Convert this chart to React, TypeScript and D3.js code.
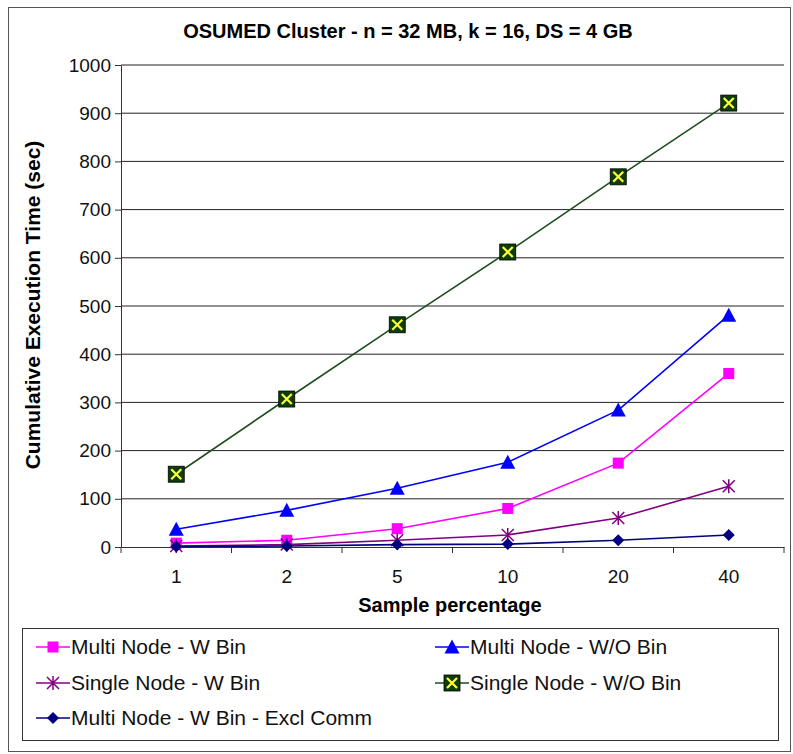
import { useEffect, useRef } from "react";
import * as d3 from "d3";

const categories = ["1", "2", "5", "10", "20", "40"];
const multiWBin = [8, 14, 38, 80, 174, 360];
const multiWOBin = [37, 76, 122, 176, 284, 481];
const singleWBin = [2, 5, 14, 25, 60, 126];
const singleWOBin = [151, 307, 461, 612, 768, 921];
const multiExclComm = [1, 2, 5, 6, 14, 25];
const yTicks = [0, 100, 200, 300, 400, 500, 600, 700, 800, 900, 1000];

const seriesList = [
    { name: "Multi Node - W Bin", values: multiWBin, color: "#ff00ff", marker: "square" },
    { name: "Multi Node - W/O Bin", values: multiWOBin, color: "#0000ff", marker: "triangle" },
    { name: "Single Node - W Bin", values: singleWBin, color: "#800080", marker: "star" },
    { name: "Single Node - W/O Bin", values: singleWOBin, color: "#1e4d1e", marker: "xbox" },
    { name: "Multi Node - W Bin - Excl Comm", values: multiExclComm, color: "#000080", marker: "diamond" },
];

const W = 793;
const H = 754;
const FONT = "'Liberation Sans', Arial, sans-serif";

const drawMarker = (g, type, x, y, color) => {
    if (type === "square") {
        g.append("rect").attr("x", x - 5.5).attr("y", y - 5.5).attr("width", 11).attr("height", 11).attr("fill", color);
    } else if (type === "triangle") {
        g.append("path").attr("d", `M${x},${y - 7.5}L${x + 7.5},${y + 6.5}L${x - 7.5},${y + 6.5}Z`).attr("fill", color);
    } else if (type === "diamond") {
        g.append("path").attr("d", `M${x},${y - 6}L${x + 6},${y}L${x},${y + 6}L${x - 6},${y}Z`).attr("fill", color);
    } else if (type === "star") {
        const s = 6;
        g.append("path")
            .attr("d", `M${x - s},${y - s}L${x + s},${y + s}M${x - s},${y + s}L${x + s},${y - s}M${x},${y - s - 1}L${x},${y + s + 1}`)
            .attr("stroke", color).attr("stroke-width", 1.5).attr("fill", "none");
    } else if (type === "xbox") {
        g.append("rect").attr("x", x - 8).attr("y", y - 8).attr("width", 16).attr("height", 16)
            .attr("fill", "#0d3d0d").attr("stroke", "#000").attr("stroke-width", 0.8);
        g.append("path").attr("d", `M${x - 5},${y - 5}L${x + 5},${y + 5}M${x - 5},${y + 5}L${x + 5},${y - 5}`)
            .attr("stroke", "#ffff33").attr("stroke-width", 2.2).attr("fill", "none");
    }
};

const App = () => {
    const svgRef = useRef(null);

    useEffect(() => {
        const svg = d3.select(svgRef.current);
        svg.selectAll("*").remove();

        const left = 121;
        const right = 784;
        const top = 65;
        const bottom = 547;

        const x = d3.scaleBand().domain(categories).range([left, right]);
        const y = d3.scaleLinear().domain([0, 1000]).range([bottom, top]);
        const cx = (c) => x(c) + x.bandwidth() / 2;

        // outer border
        svg.append("rect").attr("x", 8.5).attr("y", 7.5).attr("width", 782).attr("height", 744)
            .attr("fill", "#fff").attr("stroke", "#555").attr("stroke-width", 1);

        // title
        svg.append("text").attr("x", 408).attr("y", 38).attr("text-anchor", "middle")
            .style("font-family", FONT).style("font-size", "20px").style("font-weight", "bold")
            .text("OSUMED Cluster - n = 32 MB, k = 16, DS = 4 GB");

        // gridlines
        svg.append("g").selectAll("line").data(yTicks.filter((d) => d > 0)).enter().append("line")
            .attr("x1", left).attr("x2", right).attr("y1", (d) => y(d)).attr("y2", (d) => y(d))
            .attr("stroke", "#222").attr("stroke-width", 1);

        // y axis
        const yAxis = d3.axisLeft(y).tickValues(yTicks).tickFormat(d3.format("d")).tickSize(6).tickSizeOuter(0);
        const gy = svg.append("g").attr("transform", `translate(${left},0)`).call(yAxis);
        gy.selectAll("text").style("font-family", FONT).style("font-size", "19px").attr("fill", "#111").attr("dx", "-1");
        gy.selectAll("line,path").attr("stroke", "#333");

        // x axis
        const xAxis = d3.axisBottom(x).tickSize(0).tickSizeOuter(0);
        const gx = svg.append("g").attr("transform", `translate(0,${bottom})`).call(xAxis);
        gx.selectAll("text").style("font-family", FONT).style("font-size", "19px").attr("fill", "#111").attr("dy", "1.75em");
        gx.selectAll("path").attr("stroke", "#333");
        gx.append("g").selectAll("line").data(categories).enter().append("line")
            .attr("x1", (c) => x(c) + x.bandwidth()).attr("x2", (c) => x(c) + x.bandwidth())
            .attr("y1", 0).attr("y2", 6).attr("stroke", "#333");
        gx.append("line").attr("x1", left).attr("x2", left).attr("y1", 0).attr("y2", 6).attr("stroke", "#333");

        // axis titles
        svg.append("text").attr("x", 450).attr("y", 612).attr("text-anchor", "middle")
            .style("font-family", FONT).style("font-size", "20px").style("font-weight", "bold")
            .text("Sample percentage");
        svg.append("text").attr("transform", "rotate(-90)").attr("x", -305).attr("y", 40)
            .attr("text-anchor", "middle")
            .style("font-family", FONT).style("font-size", "21px").style("font-weight", "bold")
            .text("Cumulative Execution Time (sec)");

        // series
        const line = d3.line().x((d, i) => cx(categories[i])).y((d) => y(d));
        const order = [3, 1, 0, 2, 4];
        order.forEach((si) => {
            const s = seriesList[si];
            const g = svg.append("g");
            g.append("path").datum(s.values).attr("d", line).attr("fill", "none")
                .attr("stroke", s.color).attr("stroke-width", 1.6);
            s.values.forEach((v, i) => drawMarker(g, s.marker, cx(categories[i]), y(v), s.color));
        });

        // legend
        svg.append("rect").attr("x", 22.5).attr("y", 628.5).attr("width", 756).attr("height", 112)
            .attr("fill", "#fff").attr("stroke", "#333");
        const legendPos = [
            [36, 647], [435, 647], [36, 683], [435, 683], [36, 718],
        ];
        seriesList.forEach((s, i) => {
            const [lx, ly] = legendPos[i];
            const g = svg.append("g");
            g.append("line").attr("x1", lx).attr("x2", lx + 34).attr("y1", ly).attr("y2", ly)
                .attr("stroke", s.color).attr("stroke-width", 1.6);
            drawMarker(g, s.marker, lx + 17, ly, s.color);
            g.append("text").attr("x", lx + 35).attr("y", ly + 7)
                .style("font-family", FONT).style("font-size", "21px").attr("fill", "#111")
                .text(s.name);
        });
    }, []);

    return (
        <svg ref={svgRef} width={W} height={H} viewBox={`0 0 ${W} ${H}`}
            style={{ position: "absolute", left: 0, top: 0, background: "#fff" }}></svg>
    );
};

export default App;
